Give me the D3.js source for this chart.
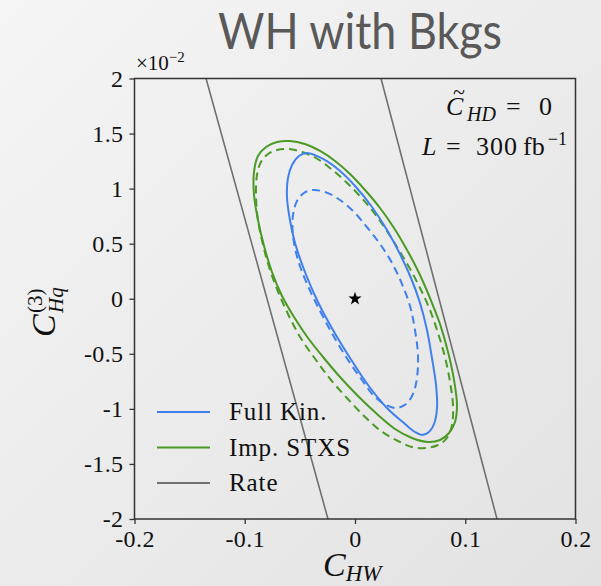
<!DOCTYPE html>
<html><head><meta charset="utf-8">
<script src="https://cdn.jsdelivr.net/npm/d3@7/dist/d3.min.js"></script>
<style>body{margin:0;background:#eee;} svg{display:block;}</style>
</head><body>
<svg id="c" width="601" height="586"></svg>
<script>
// ---- data (x: C_HW, y: C_Hq^(3) in units of 1e-2) ----
const xTicks = [-0.2, -0.1, 0, 0.1, 0.2];
const xTickLabels = ["-0.2", "-0.1", "0", "0.1", "0.2"];
const yTicks = [-2, -1.5, -1, -0.5, 0, 0.5, 1, 1.5, 2];
const yTickLabels = ["-2", "-1.5", "-1", "-0.5", "0", "0.5", "1", "1.5", "2"];

const fullKinSolid = [[-0.0435,1.3236],[-0.0290,1.2691],[-0.0136,1.1601],[0.0009,1.0148],[0.0154,0.8332],[0.0290,0.6243],[0.0408,0.4064],[0.0508,0.1884],[0.0590,-0.0386],[0.0653,-0.2838],[0.0698,-0.5381],[0.0735,-0.7832],[0.0744,-0.9921],[0.0717,-1.1374],[0.0671,-1.2101],[0.0608,-1.2373],[0.0544,-1.2101],[0.0454,-1.1374],[0.0290,-0.9921],[0.0118,-0.7832],[-0.0045,-0.5381],[-0.0200,-0.2838],[-0.0336,-0.0295],[-0.0454,0.2429],[-0.0544,0.5063],[-0.0590,0.7151],[-0.0617,0.9240],[-0.0608,1.0965],[-0.0571,1.2146],[-0.0508,1.2963]];
const fullKinDashed = [[-0.0381,0.9875],[-0.0272,0.9694],[-0.0163,0.9149],[-0.0027,0.8059],[0.0100,0.6606],[0.0227,0.4972],[0.0336,0.3246],[0.0426,0.1339],[0.0499,-0.0658],[0.0544,-0.2838],[0.0571,-0.5108],[0.0562,-0.7197],[0.0526,-0.8649],[0.0463,-0.9558],[0.0381,-0.9921],[0.0281,-0.9648],[0.0172,-0.8831],[0.0063,-0.7378],[-0.0063,-0.5562],[-0.0190,-0.3474],[-0.0317,-0.1112],[-0.0435,0.1339],[-0.0517,0.3519],[-0.0562,0.5698],[-0.0562,0.7605],[-0.0526,0.8877],[-0.0463,0.9603]];
const stxsSolid = [[-0.0590,1.4325],[-0.0454,1.4053],[-0.0317,1.3417],[-0.0181,1.2509],[-0.0045,1.1328],[0.0091,0.9875],[0.0227,0.8241],[0.0354,0.6425],[0.0472,0.4427],[0.0581,0.2338],[0.0680,0.0068],[0.0771,-0.2293],[0.0844,-0.4836],[0.0898,-0.7378],[0.0925,-0.9648],[0.0907,-1.1192],[0.0853,-1.2191],[0.0771,-1.2827],[0.0662,-1.3008],[0.0517,-1.2645],[0.0363,-1.1828],[0.0209,-1.0556],[0.0027,-0.8831],[-0.0136,-0.7106],[-0.0290,-0.5290],[-0.0426,-0.3564],[-0.0553,-0.1657],[-0.0662,0.0250],[-0.0753,0.2429],[-0.0825,0.4790],[-0.0880,0.7151],[-0.0916,0.9421],[-0.0916,1.1510],[-0.0880,1.2963],[-0.0807,1.3780],[-0.0707,1.4234]];
const stxsDashed = [[-0.0608,1.3598],[-0.0481,1.3326],[-0.0354,1.2781],[-0.0227,1.1873],[-0.0100,1.0783],[0.0027,0.9512],[0.0154,0.8059],[0.0272,0.6425],[0.0381,0.4699],[0.0490,0.2883],[0.0590,0.0976],[0.0680,-0.1022],[0.0753,-0.3110],[0.0816,-0.5290],[0.0862,-0.7560],[0.0889,-0.9739],[0.0880,-1.1464],[0.0834,-1.2645],[0.0753,-1.3280],[0.0644,-1.3553],[0.0517,-1.3462],[0.0390,-1.2917],[0.0236,-1.2009],[0.0082,-1.0647],[-0.0073,-0.9012],[-0.0218,-0.7378],[-0.0354,-0.5562],[-0.0481,-0.3746],[-0.0590,-0.1748],[-0.0689,0.0431],[-0.0771,0.2611],[-0.0834,0.4881],[-0.0880,0.7151],[-0.0898,0.9421],[-0.0889,1.1237],[-0.0853,1.2418],[-0.0789,1.3144],[-0.0707,1.3507]];
const rateLeft = [[-0.1351,2],[-0.0798,0],[-0.0245,-2]];
const rateRight = [[0.0236,2],[0.0762,0],[0.1288,-2]];
const bestFit = [0, 0];
const legendLabels = ["Full Kin.", "Imp. STXS", "Rate"];
const colors = {blue:"#3f80ee", green:"#4a9a25", gray:"#707070"};

// ---- drawing ----
const svg = d3.select("#c");
const W = 601, H = 586;
const defs = svg.append("defs");
const grad = defs.append("linearGradient").attr("id","bg").attr("x1","0").attr("y1","0").attr("x2","1").attr("y2","1");
grad.append("stop").attr("offset","0").attr("stop-color","#f5f5f5");
grad.append("stop").attr("offset","1").attr("stop-color","#e2e2e2");
svg.append("rect").attr("width",W).attr("height",H).attr("fill","url(#bg)");

const m = {l:134.5, r:575.5, t:78.5, b:519};
const x = d3.scaleLinear().domain([-0.2,0.2]).range([m.l,m.r]);
const y = d3.scaleLinear().domain([-2,2]).range([m.b,m.t]);

defs.append("clipPath").attr("id","clip").append("rect")
  .attr("x",m.l).attr("y",m.t).attr("width",m.r-m.l).attr("height",m.b-m.t);

// title
svg.append("text").attr("x",218).attr("y",49)
  .attr("font-family","Lato, 'Open Sans', sans-serif").attr("font-size",51)
  .attr("textLength",284).attr("lengthAdjust","spacingAndGlyphs")
  .attr("fill","#595959").text("WH with Bkgs");

const plot = svg.append("g").attr("clip-path","url(#clip)");
const line = d3.line().x(d=>x(d[0])).y(d=>y(d[1]));
const closed = d3.line().x(d=>x(d[0])).y(d=>y(d[1])).curve(d3.curveCatmullRomClosed.alpha(0.5));

[rateLeft, rateRight].forEach(r=>{
  plot.append("path").attr("d",line(r)).attr("fill","none").attr("stroke",colors.gray).attr("stroke-width",1.6);
});
const contours = [
  {d:stxsSolid, c:colors.green, dash:null},
  {d:stxsDashed, c:colors.green, dash:"8,5"},
  {d:fullKinSolid, c:colors.blue, dash:null},
  {d:fullKinDashed, c:colors.blue, dash:"8,5"}
];
contours.forEach(o=>{
  plot.append("path").attr("d",closed(o.d)).attr("fill","none").attr("stroke",o.c)
    .attr("stroke-width",2).attr("stroke-dasharray",o.dash);
});
plot.append("path").attr("d",d3.symbol(d3.symbolStar,55)())
  .attr("transform",`translate(${x(bestFit[0])},${y(bestFit[1])})`).attr("fill","#000");

// axes
const serif = "'Liberation Serif', 'Times New Roman', serif";
const xAxis = svg.append("g").attr("transform",`translate(0,${m.b})`)
  .call(d3.axisBottom(x).tickValues(xTicks).tickFormat((d,i)=>xTickLabels[i]).tickSize(5).tickPadding(6));
const yAxis = svg.append("g").attr("transform",`translate(${m.l},0)`)
  .call(d3.axisLeft(y).tickValues(yTicks).tickFormat((d,i)=>yTickLabels[i]).tickSize(5).tickPadding(6));
[xAxis,yAxis].forEach(a=>{
  a.select(".domain").remove();
  a.selectAll(".tick line").attr("stroke","#333").attr("stroke-width",1.3);
  a.selectAll(".tick text").attr("font-family",serif).attr("font-size",24).attr("letter-spacing","0.4px").attr("fill","#111");
});
yAxis.selectAll(".tick text").attr("dy","0.33em");
// frame
svg.append("rect").attr("x",m.l).attr("y",m.t).attr("width",m.r-m.l).attr("height",m.b-m.t)
  .attr("fill","none").attr("stroke","#333").attr("stroke-width",1.5);

// offset text
const off = svg.append("text").attr("x",136).attr("y",70).attr("font-family",serif).attr("font-size",21).attr("fill","#111");
off.append("tspan").text("×10");
off.append("tspan").attr("dy",-8).attr("font-size",15).text("−2");

// x label
const xl = svg.append("text").attr("x",323).attr("y",576).attr("font-family",serif).attr("fill","#111");
xl.append("tspan").attr("font-style","italic").attr("font-size",34).text("C");
xl.append("tspan").attr("font-style","italic").attr("font-size",23).attr("dy",5).text("HW");

// y label
const yl = svg.append("g").attr("transform","translate(55,337) rotate(-90)");
yl.append("text").attr("x",0).attr("y",0).attr("font-family",serif).attr("font-style","italic").attr("font-size",34).attr("fill","#111").text("C");
yl.append("text").attr("x",24).attr("y",-13).attr("font-family",serif).attr("font-size",21).attr("fill","#111").text("(3)");
yl.append("text").attr("x",24).attr("y",8).attr("font-family",serif).attr("font-style","italic").attr("font-size",21).attr("fill","#111").text("Hq");

// annotation
const a1 = svg.append("g").attr("font-family",serif).attr("fill","#111");
a1.append("text").attr("x",446).attr("y",115).attr("font-style","italic").attr("font-size",26).text("C");
a1.append("text").attr("x",453).attr("y",99).attr("font-size",22).text("~");
a1.append("text").attr("x",467).attr("y",121).attr("font-style","italic").attr("font-size",20).text("HD");
a1.append("text").attr("x",506).attr("y",115).attr("font-size",26).text("=");
a1.append("text").attr("x",552).attr("y",115).attr("text-anchor","end").attr("font-size",26).text("0");
a1.append("text").attr("x",422).attr("y",155).attr("font-style","italic").attr("font-size",26).text("L");
a1.append("text").attr("x",446).attr("y",155).attr("font-size",26).text("=");
a1.append("text").attr("x",476).attr("y",155).attr("font-size",26).attr("letter-spacing","1px").text("300");
a1.append("text").attr("x",523).attr("y",155).attr("font-size",26).text("fb");
a1.append("text").attr("x",567).attr("y",145).attr("text-anchor","end").attr("font-size",18).text("−1");

// legend
const lg = svg.append("g");
[colors.blue, colors.green, colors.gray].forEach((c,i)=>{
  const yy = 412 + i*35.5;
  lg.append("line").attr("x1",157).attr("x2",210).attr("y1",yy).attr("y2",yy).attr("stroke",c).attr("stroke-width",2.2);
  lg.append("text").attr("x",229).attr("y",yy+8).attr("font-family",serif).attr("font-size",25)
    .attr("letter-spacing","0.9px").attr("fill","#111").text(legendLabels[i]);
});
</script>
</body></html>
